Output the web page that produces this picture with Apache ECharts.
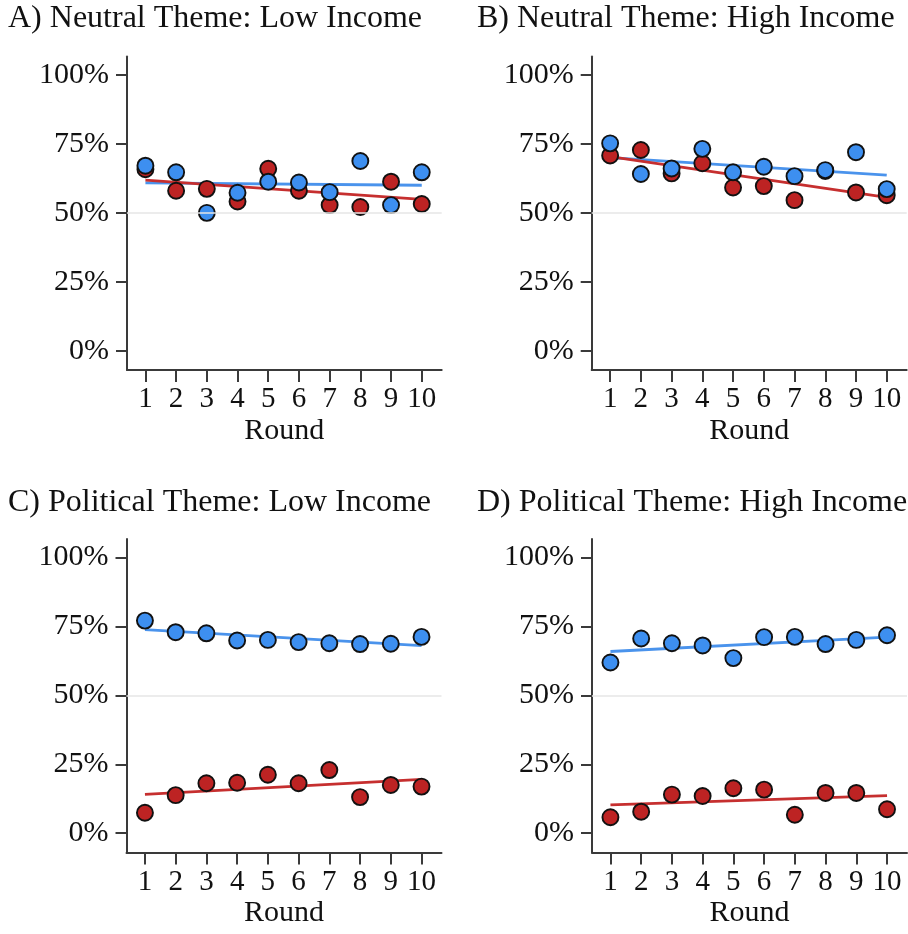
<!DOCTYPE html>
<html><head><meta charset="utf-8">
<script src="https://cdn.jsdelivr.net/npm/echarts@6/dist/echarts.min.js"></script>
<style>html,body{margin:0;padding:0;background:#fff}#c{width:908px;height:934px}</style>
</head><body><div id="c"></div>
<script>
const rounds = [1, 2, 3, 4, 5, 6, 7, 8, 9, 10];
const yTicks = [0, 25, 50, 75, 100];
const panelTitles = [
  'A) Neutral Theme: Low Income',
  'B) Neutral Theme: High Income',
  'C) Political Theme: Low Income',
  'D) Political Theme: High Income'
];
const xAxisName = 'Round';

// Panel A
const blueA = [67.1, 64.7, 50.0, 57.3, 61.3, 61.0, 57.5, 68.8, 52.8, 64.7];
const redA  = [65.8, 58.0, 58.7, 54.1, 66.0, 58.0, 52.8, 52.1, 61.3, 53.2];
const blueFitA = [60.9, 60.0];
const redFitA  = [61.9, 54.9];
// Panel B
const blueB = [75.2, 64.1, 66.1, 73.2, 64.7, 66.7, 63.3, 65.5, 72.0, 58.6];
const redB  = [70.8, 72.8, 64.3, 68.0, 59.2, 59.7, 54.6, 65.2, 57.4, 56.4];
const blueFitB = [70.0, 63.7];
const redFitB  = [70.4, 55.6];
// Panel C
const blueC = [77.1, 72.9, 72.5, 69.9, 70.1, 69.3, 68.9, 68.6, 68.7, 71.2];
const redC  = [7.4, 13.8, 18.1, 18.3, 21.2, 18.1, 22.9, 13.1, 17.5, 16.9];
const blueFitC = [73.8, 68.0];
const redFitC  = [14.1, 19.5];
// Panel D
const blueD = [61.9, 70.6, 68.9, 68.1, 63.5, 71.1, 71.2, 68.6, 70.1, 71.8];
const redD  = [5.8, 7.8, 14.0, 13.5, 16.3, 15.8, 6.7, 14.6, 14.6, 8.7];
const blueFitD = [65.9, 71.1];
const redFitD  = [10.3, 13.6];

const panels = [
  { blue: blueA, red: redA, bf: blueFitA, rf: redFitA },
  { blue: blueB, red: redB, bf: blueFitB, rf: redFitB },
  { blue: blueC, red: redC, bf: blueFitC, rf: redFitC },
  { blue: blueD, red: redD, bf: blueFitD, rf: redFitD }
];

const BLUE = '#3d8ff0', RED = '#bd2323';
const BLUE_LINE = '#4a93ec', RED_LINE = '#c62f2f';
const FONT = '"Liberation Serif", "Times New Roman", serif';
const AXIS_COLOR = '#3a3a3a';

const grids = [
  { left: 127, top: 56.5, width: 314.7, height: 313.5 },
  { left: 591.7, top: 56.5, width: 315, height: 313.5 },
  { left: 126.5, top: 539, width: 315, height: 313.5 },
  { left: 592, top: 539, width: 315, height: 313.5 }
];
const titlePos = [[8, 3], [477, 3], [8, 487], [477, 487]];

const chart = echarts.init(document.getElementById('c'), null, { renderer: 'canvas' });
const option = {
  animation: false,
  backgroundColor: '#fff',
  title: panelTitles.map((t, i) => ({
    text: t, left: titlePos[i][0], top: titlePos[i][1], padding: 0,
    textStyle: { fontFamily: FONT, fontSize: 32, fontWeight: 'normal', color: '#111' }
  })),
  grid: grids.map(g => Object.assign({ containLabel: false }, g)),
  xAxis: grids.map((g, i) => ({
    type: 'value', gridIndex: i, min: 0.4, max: 10.65,
    name: xAxisName, nameLocation: 'middle', nameGap: 46,
    nameTextStyle: { fontFamily: FONT, fontSize: 30, color: '#111' },
    axisLine: { show: true, onZero: false, lineStyle: { color: AXIS_COLOR, width: 2 } },
    axisTick: { show: true, length: 12, customValues: rounds, lineStyle: { color: AXIS_COLOR, width: 2 } },
    axisLabel: { customValues: rounds, margin: 15, fontFamily: FONT, fontSize: 29, color: '#111' },
    splitLine: { show: false }
  })),
  yAxis: grids.map((g, i) => ({
    type: 'value', gridIndex: i, min: -7, max: 106.7,
    axisLine: { show: true, onZero: false, lineStyle: { color: AXIS_COLOR, width: 2 } },
    axisTick: { show: true, length: 11, customValues: yTicks, lineStyle: { color: AXIS_COLOR, width: 2 } },
    axisLabel: { customValues: yTicks, margin: 18, fontFamily: FONT, fontSize: 30, color: '#111',
      formatter: v => v + '%' },
    splitLine: { show: false }
  })),
  series: []
};

panels.forEach((p, i) => {
  option.series.push({
    type: 'line', xAxisIndex: i, yAxisIndex: i, data: [], z: 0, silent: true,
    markLine: {
      silent: true, symbol: 'none', label: { show: false },
      lineStyle: { color: '#e6e6e6', width: 1.5, type: 'solid' },
      data: [{ yAxis: 50 }]
    }
  });
  option.series.push({
    type: 'line', xAxisIndex: i, yAxisIndex: i, showSymbol: false, symbol: 'none', z: 2,
    data: [[rounds[0], p.bf[0]], [rounds[rounds.length - 1], p.bf[1]]],
    lineStyle: { color: BLUE_LINE, width: 2.8 }
  });
  option.series.push({
    type: 'line', xAxisIndex: i, yAxisIndex: i, showSymbol: false, symbol: 'none', z: 2,
    data: [[rounds[0], p.rf[0]], [rounds[rounds.length - 1], p.rf[1]]],
    lineStyle: { color: RED_LINE, width: 2.8 }
  });
  option.series.push({
    type: 'scatter', xAxisIndex: i, yAxisIndex: i, z: 3, symbolSize: 16,
    data: rounds.map((r, k) => [r, p.red[k]]),
    itemStyle: { color: RED, borderColor: '#111', borderWidth: 1.9, opacity: 1 }
  });
  option.series.push({
    type: 'scatter', xAxisIndex: i, yAxisIndex: i, z: 4, symbolSize: 16,
    data: rounds.map((r, k) => [r, p.blue[k]]),
    itemStyle: { color: BLUE, borderColor: '#111', borderWidth: 1.9, opacity: 1 }
  });
});

chart.setOption(option);
</script>
</body></html>
